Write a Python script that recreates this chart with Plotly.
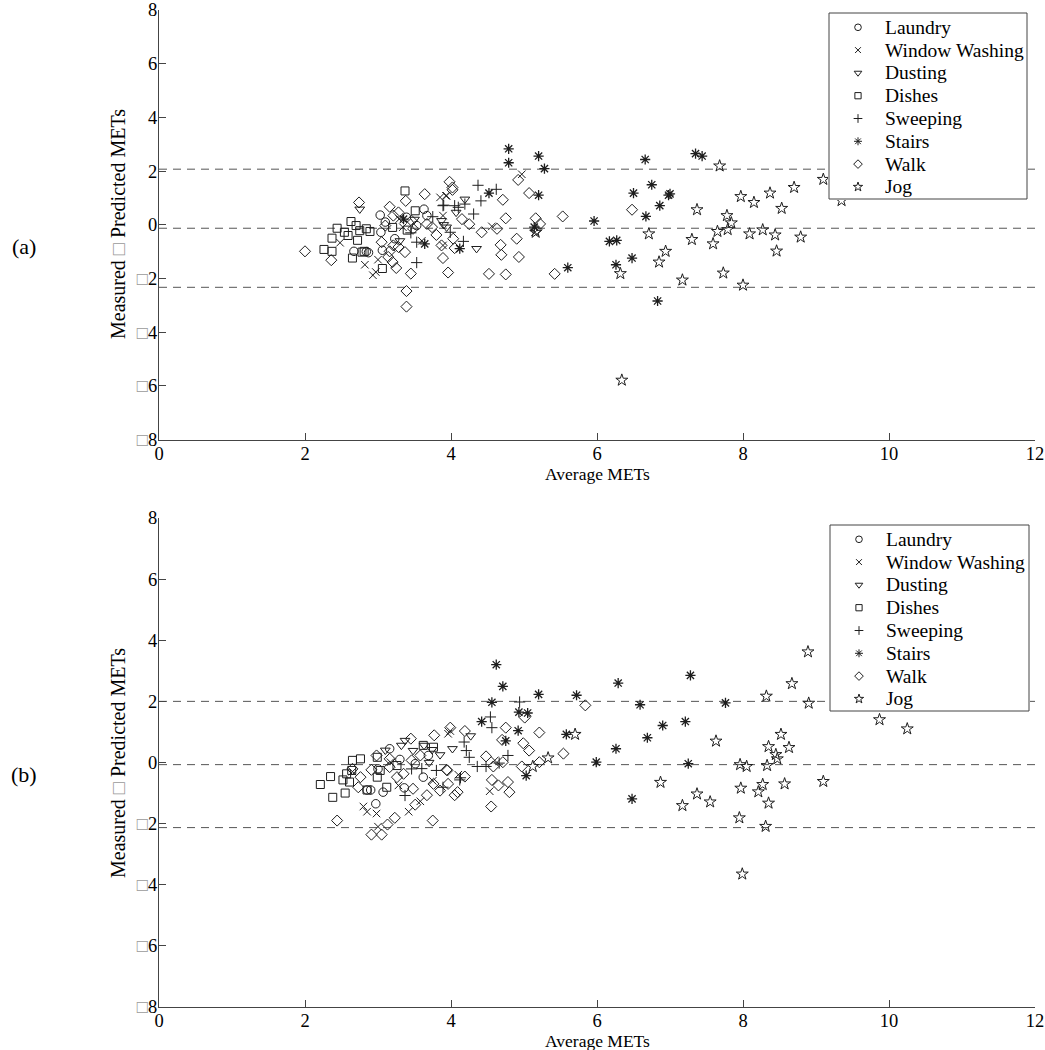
import plotly.graph_objects as go

W, H = 1045, 1050
FONT = "Liberation Serif"

# ---------------- data ----------------
CATEGORIES = ["Laundry", "Window Washing", "Dusting", "Dishes", "Sweeping", "Stairs", "Walk", "Jog"]

# panel (a)
A_LAUNDRY_X = [3.03, 2.67, 2.87, 3.06, 3.04, 3.23, 3.39, 3.53, 3.67, 3.63, 2.84, 3.10]
A_LAUNDRY_Y = [0.36, -0.99, -1.04, -0.95, -0.28, -0.52, 0.28, -0.03, 0.34, 0.58, -1.00, 0.10]
A_WINDOW_X = [2.48, 2.82, 2.93, 2.97, 3.29, 3.34, 3.85, 3.93, 3.89, 4.97, 3.94, 4.56, 3.89, 5.15, 3.00, 3.60]
A_WINDOW_Y = [-0.67, -1.49, -1.88, -1.76, 0.21, -0.09, 1.02, 1.08, 0.34, 1.88, 1.08, -0.06, -0.77, -0.28, -1.30, -0.60]
A_DUSTING_X = [2.75, 4.19, 4.35, 3.94, 4.07, 3.50, 3.87, 3.30, 3.90]
A_DUSTING_Y = [0.58, 0.95, -0.89, -0.09, 0.46, 0.20, 0.15, -0.60, 0.00]
A_DISHES_X = [2.26, 2.37, 2.37, 2.44, 2.54, 2.59, 2.63, 2.70, 2.65, 2.72, 2.78, 2.75, 2.84, 3.37, 3.51, 3.06, 2.81, 2.89, 3.20, 3.40]
A_DISHES_Y = [-0.92, -0.99, -0.50, -0.13, -0.28, -0.40, 0.12, -0.03, -1.24, -0.58, -1.02, -0.22, -0.15, 1.26, 0.52, -1.63, -0.99, -0.25, -0.10, -0.20]
A_SWEEP_X = [3.53, 3.89, 4.05, 3.99, 3.53, 4.37, 4.62, 4.41, 4.31, 4.10, 3.90, 4.19, 4.17, 3.75, 3.45]
A_SWEEP_Y = [-1.41, 0.71, 0.71, -0.28, -0.65, 1.47, 1.32, 0.89, 0.40, 0.65, 0.73, 0.77, -0.62, 0.30, -0.30]
A_STAIRS_X = [3.64, 3.35, 4.79, 4.79, 5.20, 5.28, 4.52, 5.20, 5.96, 6.17, 6.27, 6.26, 5.60, 4.12, 5.14,
              6.66, 6.75, 6.50, 7.00, 6.98, 6.86, 6.67, 6.48, 6.83, 7.35, 7.44]
A_STAIRS_Y = [-0.71, 0.21, 2.83, 2.31, 2.56, 2.09, 1.18, 1.10, 0.14, -0.62, -0.58, -1.49, -1.60, -0.89, -0.09,
              2.43, 1.49, 1.18, 1.15, 1.10, 0.71, 0.31, -1.24, -2.84, 2.65, 2.56]
A_WALK_X = [2.00, 2.36, 2.74, 3.16, 3.28, 3.38, 3.64, 3.98, 4.02, 3.39, 3.39, 3.45, 3.25, 3.20, 3.14, 3.05, 3.28, 3.37,
            3.89, 3.96, 3.87, 4.05, 4.03, 3.80, 3.74, 3.67, 3.48, 3.46, 3.21, 3.10, 3.16, 3.21, 4.02, 4.92, 5.07, 4.71,
            4.75, 4.25, 4.42, 4.63, 4.90, 4.68, 4.69, 4.93, 4.52, 4.75, 5.42, 5.53, 5.16, 5.22, 5.17, 4.15, 6.48]
A_WALK_Y = [-0.99, -1.32, 0.83, 0.67, 0.46, 0.89, 1.14, 1.60, 1.39, -2.47, -3.05, -1.82, -1.61, -1.39, -1.20, -0.65, -0.83, -1.02,
            -1.24, -1.78, -0.77, -0.87, -0.52, -0.38, -0.09, 0.03, -0.15, 0.15, 0.34, -0.03, -0.99, -0.77, 1.30, 1.67, 1.18, 0.93,
            0.24, 0.02, -0.28, -0.15, -0.52, -0.75, -1.12, -1.20, -1.83, -1.85, -1.83, 0.31, 0.24, 0.03, -0.18, 0.21, 0.56]
A_JOG_X = [5.16, 6.32, 6.71, 6.94, 6.85, 7.17, 7.30, 7.37, 7.68, 7.59, 7.65, 7.73, 7.78, 7.84, 7.79, 8.00, 7.97, 8.09,
           8.15, 8.27, 8.37, 8.44, 8.46, 8.53, 8.70, 8.79, 9.10, 9.35, 6.34]
A_JOG_Y = [-0.28, -1.82, -0.34, -0.99, -1.39, -2.06, -0.55, 0.56, 2.19, -0.71, -0.25, -1.80, 0.34, 0.07, -0.18, -2.25, 1.05, -0.34,
           0.83, -0.19, 1.18, -0.38, -0.98, 0.61, 1.39, -0.46, 1.69, 0.90, -5.79]
A_LIMITS = [2.07, -0.13, -2.33]  # upper limit, mean, lower limit

# panel (b)
B_LAUNDRY_X = [3.16, 2.85, 3.07, 3.36, 2.97, 3.00, 3.69, 3.51, 3.62, 2.90, 3.30]
B_LAUNDRY_Y = [0.45, -0.90, -0.97, -0.83, -1.35, -0.21, 0.23, -0.04, -0.48, -0.90, 0.10]
B_WINDOW_X = [2.80, 2.85, 2.98, 3.00, 3.42, 3.58, 3.96, 3.17, 3.28, 4.53, 3.99, 4.60, 3.75, 4.10, 2.65]
B_WINDOW_Y = [-1.44, -1.61, -1.67, -2.10, -1.61, -1.27, 0.94, 0.01, -0.75, -0.94, 1.03, 0.07, -0.60, -0.40, -0.30]
B_DUSTING_X = [3.32, 3.48, 3.63, 3.74, 4.02, 3.37, 4.27, 3.85, 3.70, 3.10]
B_DUSTING_Y = [0.56, 0.39, 0.56, 0.42, 0.45, 0.72, 0.87, 0.25, 0.00, 0.40]
B_DISHES_X = [2.21, 2.35, 2.38, 2.52, 2.55, 2.61, 2.57, 2.65, 2.76, 2.64, 2.85, 2.99, 2.99, 3.03, 3.12, 3.26, 3.62, 3.76]
B_DISHES_Y = [-0.72, -0.46, -1.14, -0.57, -1.00, -0.64, -0.37, 0.07, 0.12, -0.26, -0.90, 0.17, -0.48, -0.26, -0.81, -0.10, 0.56, 0.50]
B_SWEEP_X = [3.37, 3.46, 3.80, 4.12, 3.89, 4.94, 4.54, 4.56, 4.18, 4.21, 4.25, 4.36, 4.48, 4.78, 4.66, 4.13, 3.60]
B_SWEEP_Y = [-1.08, -0.21, -0.26, -0.57, -0.81, 1.98, 1.49, 1.14, 0.67, 0.39, 0.17, -0.13, -0.13, 0.23, -0.02, -0.50, -0.20]
B_STAIRS_X = [4.62, 4.71, 5.20, 5.72, 6.29, 4.56, 4.93, 5.05, 4.42, 4.92, 4.75, 5.58, 5.03, 5.99, 6.26,
              7.28, 6.59, 7.76, 6.90, 7.21, 6.69, 7.25, 6.48]
B_STAIRS_Y = [3.20, 2.49, 2.23, 2.20, 2.60, 1.97, 1.65, 1.62, 1.34, 1.04, 0.71, 0.92, -0.43, 0.01, 0.45,
              2.85, 1.89, 1.95, 1.21, 1.34, 0.81, -0.04, -1.19]
B_WALK_X = [2.44, 2.91, 3.05, 3.13, 3.23, 3.75, 3.45, 3.77, 3.99, 2.65, 2.76, 2.73, 2.91, 3.16, 3.26, 3.35, 3.48, 3.51,
            3.67, 3.76, 3.85, 3.94, 4.05, 3.96, 3.58, 3.46, 3.16, 2.98, 4.19, 4.75, 5.01, 5.21, 4.70, 4.99, 5.07, 4.48,
            4.71, 5.21, 5.54, 5.84, 4.97, 4.58, 4.56, 4.65, 4.78, 4.80, 3.95, 4.09, 4.19, 4.55]
B_WALK_Y = [-1.90, -2.36, -2.36, -2.03, -1.81, -1.90, 0.78, 0.89, 1.14, -0.21, -0.48, -0.81, -0.24, -0.15, -0.48, -0.37, -0.86, -1.38,
            -1.07, -0.70, -0.92, -0.24, -1.07, -0.70, 0.23, 0.07, 0.12, 0.23, 1.03, 1.14, 1.47, 0.98, 0.74, 0.63, 0.39, 0.20,
            0.01, 0.01, 0.29, 1.87, -0.13, -0.13, -0.57, -0.75, -0.64, -0.97, -0.26, -0.97, -0.46, -1.44]
B_JOG_X = [5.70, 5.33, 5.12, 8.89, 8.67, 8.32, 8.90, 8.52, 7.63, 8.35, 8.63, 8.45, 8.47, 7.96, 8.05, 8.33, 6.87, 7.97,
           8.27, 8.21, 8.57, 9.10, 7.37, 7.17, 7.55, 8.35, 7.95, 8.31, 7.99, 9.87, 10.25]
B_JOG_Y = [0.92, 0.15, -0.13, 3.62, 2.58, 2.17, 1.94, 0.92, 0.70, 0.52, 0.49, 0.26, 0.12, -0.07, -0.13, -0.10, -0.65, -0.84,
           -0.72, -0.96, -0.70, -0.62, -1.03, -1.41, -1.29, -1.33, -1.81, -2.09, -3.65, 1.40, 1.10]
B_LIMITS = [2.00, -0.07, -2.13]

X_TICKS = [0, 2, 4, 6, 8, 10, 12]
Y_TICKS = [-8, -6, -4, -2, 0, 2, 4, 6, 8]
PANEL_LABELS = ["(a)", "(b)"]
X_TITLE = "Average METs"
BOX = '<span style="color:#9a9a9a">\u25a1</span>'
Y_TITLE = "Measured " + BOX + " Predicted METs"

# ---------------- styles ----------------
SYMBOLS = {
    "Laundry": ("circle-open", 8.5),
    "Window Washing": ("x-thin-open", 7.5),
    "Dusting": ("triangle-down-open", 8.5),
    "Dishes": ("square-open", 8),
    "Sweeping": ("cross-thin-open", 8),
    "Stairs": ("asterisk-open", 8.5),
    "Walk": ("diamond-open", 8.5),
    "Jog": ("star-open", 9),
}
LINE_W = {"Stairs": 1.3}
LEG_SCALE = 0.78
INK = "#1e1e1e"
AXIS = "#444444"

A_DATA = [(A_LAUNDRY_X, A_LAUNDRY_Y), (A_WINDOW_X, A_WINDOW_Y), (A_DUSTING_X, A_DUSTING_Y), (A_DISHES_X, A_DISHES_Y),
          (A_SWEEP_X, A_SWEEP_Y), (A_STAIRS_X, A_STAIRS_Y), (A_WALK_X, A_WALK_Y), (A_JOG_X, A_JOG_Y)]
B_DATA = [(B_LAUNDRY_X, B_LAUNDRY_Y), (B_WINDOW_X, B_WINDOW_Y), (B_DUSTING_X, B_DUSTING_Y), (B_DISHES_X, B_DISHES_Y),
          (B_SWEEP_X, B_SWEEP_Y), (B_STAIRS_X, B_STAIRS_Y), (B_WALK_X, B_WALK_Y), (B_JOG_X, B_JOG_Y)]


def neg_label(v):
    return BOX + str(abs(v)) if v < 0 else str(v)


Y_TICKTEXT = [neg_label(v) for v in Y_TICKS]


def clamp(v):
    return min(1.0, max(0.0, v))


def px_x(p):
    return clamp(p / W)


def px_y(p):
    return clamp(1 - p / H)


X_DOM = [px_x(159), px_x(1035)]
A_DOM = [px_y(439.5), px_y(10)]
B_DOM = [px_y(1007), px_y(518)]

# legend boxes in page pixels: left, right, top, bottom
LEG_BOXES = [(829, 1027, 13, 199), (830, 1029, 525, 711)]
LEG_SYM_DX, LEG_TXT_DX, LEG_ROW0, LEG_ROW_STEP = 29, 54, 14.3, 22.8

fig = go.Figure()

panels = [(A_DATA, A_LIMITS, "x", "y"), (B_DATA, B_LIMITS, "x2", "y2")]
for data, limits, xa, ya in panels:
    for v in limits:
        fig.add_shape(type="line", xref=xa, yref=ya, x0=X_TICKS[0], x1=X_TICKS[-1], y0=v, y1=v,
                      line=dict(color="#555555", width=1, dash="8px,6px"), layer="below")
    for cat, (xs, ys) in zip(CATEGORIES, data):
        sym, size = SYMBOLS[cat]
        fig.add_trace(go.Scatter(
            x=xs, y=ys, mode="markers", name=cat, xaxis=xa, yaxis=ya, showlegend=False,
            marker=dict(symbol=sym, size=size, color=INK, line=dict(color=INK, width=LINE_W.get(cat, 1))),
        ))

# custom legends drawn in their own small subplots (so the line spacing matches)
leg_axes = [("x3", "y3"), ("x4", "y4")]
for (xa, ya), (l, r, t, b) in zip(leg_axes, LEG_BOXES):
    w, h = r - l, b - t
    fig.add_trace(go.Scatter(x=[0, w, w, 0, 0], y=[0, 0, h, h, 0], mode="lines", fill="toself",
                             fillcolor="white", line=dict(color=AXIS, width=1), xaxis=xa, yaxis=ya,
                             showlegend=False, hoverinfo="skip"))
    for i, cat in enumerate(CATEGORIES):
        sym, size = SYMBOLS[cat]
        row = LEG_ROW0 + i * LEG_ROW_STEP
        fig.add_trace(go.Scatter(x=[LEG_SYM_DX], y=[row], mode="markers", xaxis=xa, yaxis=ya, showlegend=False,
                                 marker=dict(symbol=sym, size=size * LEG_SCALE, color=INK,
                                             line=dict(color=INK, width=1)),
                                 hoverinfo="skip"))
        fig.add_annotation(text=cat, x=LEG_TXT_DX, y=row, xref=xa, yref=ya, showarrow=False,
                           xanchor="left", yanchor="middle", font=dict(family=FONT, size=19.5, color="black"))

tickfont = dict(family=FONT, size=18.5, color="black")
xcommon = dict(range=[X_TICKS[0], X_TICKS[-1]], tickvals=X_TICKS, ticks="inside", ticklen=7, tickcolor=AXIS,
               showline=True, linecolor=AXIS, linewidth=1, showgrid=False, zeroline=False, tickfont=tickfont,
               domain=X_DOM, automargin=False, ticklabeloverflow="allow", ticklabelstandoff=-3)
ycommon = dict(range=[Y_TICKS[0], Y_TICKS[-1]], tickvals=Y_TICKS, ticktext=Y_TICKTEXT, ticks="inside", ticklen=7,
               tickcolor=AXIS, showline=True, linecolor=AXIS, linewidth=1, showgrid=False, zeroline=False,
               tickfont=tickfont, automargin=False, ticklabeloverflow="allow", ticklabelstandoff=-3)


def leg_axis_x(box):
    l, r, t, b = box
    return dict(domain=[px_x(l - 1), px_x(r + 1)], range=[-1, r - l + 1], visible=False, automargin=False,
                fixedrange=True)


def leg_axis_y(box):
    l, r, t, b = box
    return dict(domain=[px_y(b + 1), px_y(t - 1)], range=[b - t + 1, -1], visible=False, automargin=False,
                fixedrange=True)


fig.update_layout(
    template="none",
    width=W, height=H,
    margin=dict(l=0, r=0, t=0, b=0, autoexpand=False),
    paper_bgcolor="white", plot_bgcolor="white",
    font=dict(family=FONT, size=18, color="black"),
    showlegend=False,
    xaxis=dict(**xcommon, anchor="y"),
    yaxis=dict(**ycommon, domain=A_DOM, anchor="x"),
    xaxis2=dict(**xcommon, anchor="y2"),
    yaxis2=dict(**ycommon, domain=B_DOM, anchor="x2"),
    xaxis3=dict(**leg_axis_x(LEG_BOXES[0]), anchor="y3"),
    yaxis3=dict(**leg_axis_y(LEG_BOXES[0]), anchor="x3"),
    xaxis4=dict(**leg_axis_x(LEG_BOXES[1]), anchor="y4"),
    yaxis4=dict(**leg_axis_y(LEG_BOXES[1]), anchor="x4"),
)

annotations = [
    (PANEL_LABELS[0], 24, 246, 0, 22),
    (PANEL_LABELS[1], 24, 774, 0, 22),
    (Y_TITLE, 118, 224, -90, 20),
    (Y_TITLE, 118, 763, -90, 20),
    (X_TITLE, 597, 474, 0, 17.5),
    (X_TITLE, 597, 1041, 0, 17.5),
]
for text, ax_, ay_, ang, fs in annotations:
    fig.add_annotation(text=text, x=px_x(ax_), y=px_y(ay_), xref="paper", yref="paper", showarrow=False,
                       textangle=ang, xanchor="center", yanchor="middle",
                       font=dict(family=FONT, size=fs, color="black"))

# the page's default body margin would shift the figure by 8 px; remove it
fig.write_html("out.html", config={"displayModeBar": False},
               post_script="document.body.style.margin='0px';document.body.style.overflow='hidden';")
